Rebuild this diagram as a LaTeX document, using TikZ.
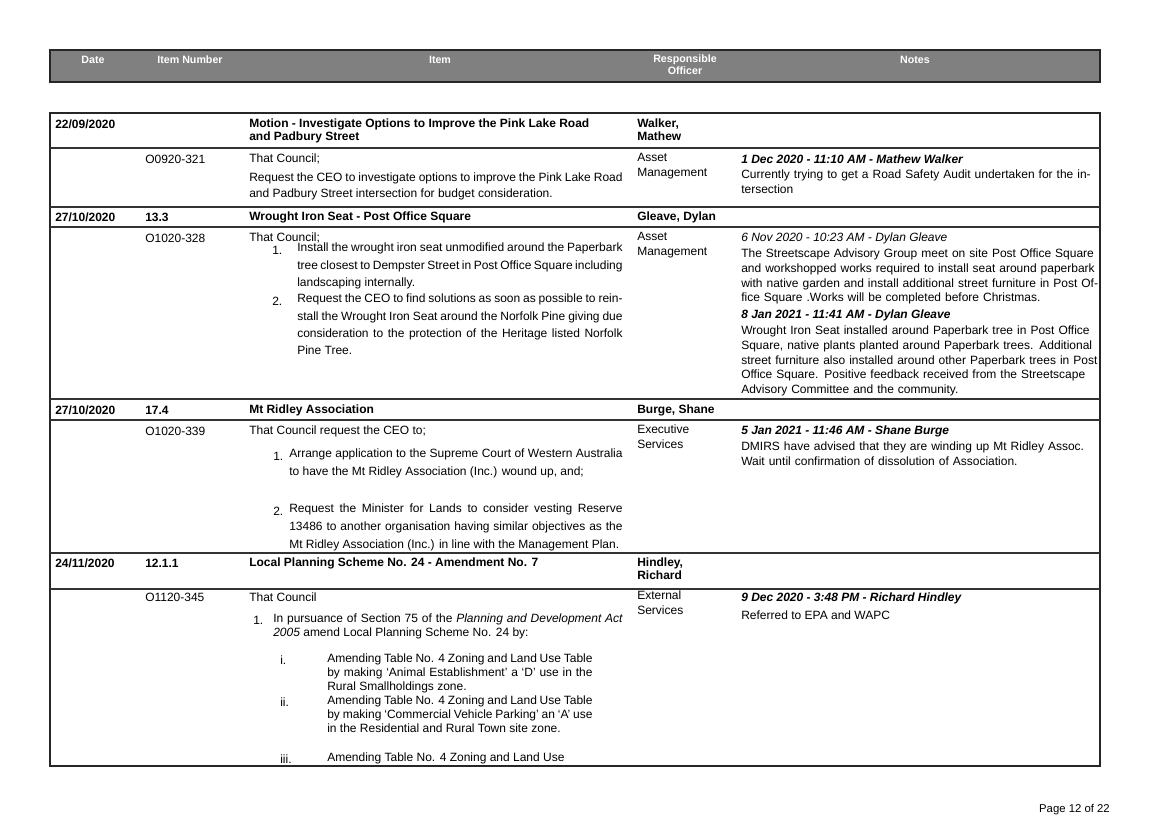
\documentclass[tikz,border=0pt]{standalone}
\usepackage{fontspec}
\setmainfont{Liberation Sans}
\begin{document}
\begin{tikzpicture}[x=0.75pt,y=-0.75pt,
  tx/.style={anchor=west,inner sep=0pt,font=\fontsize{9}{11}\selectfont},
  bd/.style={tx,font=\fontsize{9}{11}\selectfont\bfseries},
  hd/.style={inner sep=0pt,text=white,font=\fontsize{8}{9}\selectfont\bfseries,align=center},
  para/.style={anchor=north west,inner sep=0pt,align=justify,font=\fontsize{9}{#1}\selectfont},
  para/.default=12,
  rule/.style={line width=0.8pt,draw=black!80}]
\useasboundingbox (0,0) rectangle (1160,821);
% header
\draw[fill=black!50,line width=1.6pt,draw=black!85] (50,50) rectangle (1100,82);
\node[hd] (h1) at (93,60) {Date};
\node[hd] (h2) at (190,60) {Item Number};
\node[hd] (h3) at (440,60) {Item};
\node[hd,anchor=north] (h4) at (685,55) {Responsible\\Officer};
\node[hd] (h5) at (915,60) {Notes};
% table
\draw[line width=1.4pt,draw=black!85] (50,113) rectangle (1100,766);
\foreach \yy in {148,207,227,399,420,553,589} \draw[rule] (50,\yy) -- (1100,\yy);
% row 1
\node[bd] (d1) at (55,124) {22/09/2020};
\node[bd,anchor=north west] (t1) at (249,117) {\begin{tabular}{@{}l@{}}Motion - Investigate Options to Improve the Pink Lake Road\\[-1.5pt]and Padbury Street\end{tabular}};
\node[bd,anchor=north west] (o1) at (637,117) {\begin{tabular}{@{}l@{}}Walker,\\[-1.5pt]Mathew\end{tabular}};
\node[tx] (n1) at (145,159) {O0920-321};
\node[tx] (c1) at (249,159) {That Council;};
\node[para,text width=280pt] (p1) at (249,173) {Request the CEO to investigate options to improve the Pink Lake Road and Padbury Street intersection for budget consideration.};
\node[tx,anchor=north west,align=left] (r1) at (637,153) {Asset\\Management};
\node[bd,font=\fontsize{9}{11}\selectfont\bfseries\itshape] (m1) at (741,159) {1 Dec 2020 - 11:10 AM - Mathew Walker};
\node[para=11,text width=272pt,align=left] (q1) at (741,170) {Currently trying to get a Road Safety Audit undertaken for the intersection};
% row 2
\node[bd] (d2) at (55,217) {27/10/2020};
\node[bd] (i2) at (145,217) {13.3};
\node[bd] (t2) at (249,217) {Wrought Iron Seat - Post Office Square};
\node[bd] (o2) at (637,217) {Gleave, Dylan};
\node[tx] (n2) at (145,238) {O1020-328};
\node[tx] (c2) at (249,238) {That Council;};
\node[tx] (k21) at (272,250) {1.};
\node[para=12.8,text width=244pt] (p21) at (297,243) {Install the wrought iron seat unmodified around the Paperbark tree closest to Dempster Street in Post Office Square including landscaping internally.};
\node[tx] (k22) at (272,301) {2.};
\node[para=12.8,text width=244pt] (p22) at (297,294) {Request the CEO to find solutions as soon as possible to reinstall the Wrought Iron Seat around the Norfolk Pine giving due consideration to the protection of the Heritage listed Norfolk Pine Tree.};
\node[tx,anchor=north west,align=left] (r2) at (637,232) {Asset\\Management};
\node[tx,font=\fontsize{9}{11}\selectfont\itshape] (m21) at (741,238) {6 Nov 2020 - 10:23 AM - Dylan Gleave};
\node[para=11,text width=272pt,align=left] (q21) at (741,249) {The Streetscape Advisory Group meet on site Post Office Square and workshopped works required to install seat around paperbark with native garden and install additional street furniture in Post Office Square .Works will be completed before Christmas.};
\node[bd,font=\fontsize{9}{11}\selectfont\bfseries\itshape] (m22) at (741,315) {8 Jan 2021 - 11:41 AM - Dylan Gleave};
\node[para=11,text width=272pt,align=left] (q22) at (741,326) {Wrought Iron Seat installed around Paperbark tree in Post Office Square, native plants planted around Paperbark trees. Additional street furniture also installed around other Paperbark trees in Post Office Square. Positive feedback received from the Streetscape Advisory Committee and the community.};
% row 3
\node[bd] (d3) at (55,410) {27/10/2020};
\node[bd] (i3) at (145,410) {17.4};
\node[bd] (t3) at (249,410) {Mt Ridley Association};
\node[bd] (o3) at (637,410) {Burge, Shane};
\node[tx] (n3) at (145,431) {O1020-339};
\node[tx] (c3) at (249,431) {That Council request the CEO to;};
\node[tx] (k31) at (273,456) {1.};
\node[para=13.5,text width=250pt] (p31) at (289,449) {Arrange application to the Supreme Court of Western Australia to have the Mt Ridley Association (Inc.) wound up, and;};
\node[tx] (k32) at (273,511) {2.};
\node[para=13.5,text width=250pt] (p32) at (289,504) {Request the Minister for Lands to consider vesting Reserve 13486 to another organisation having similar objectives as the Mt Ridley Association (Inc.) in line with the Management Plan.};
\node[tx,anchor=north west,align=left] (r3) at (637,425) {Executive\\Services};
\node[bd,font=\fontsize{9}{11}\selectfont\bfseries\itshape] (m3) at (741,431) {5 Jan 2021 - 11:46 AM - Shane Burge};
\node[para=11,text width=272pt,align=left] (q3) at (741,442) {DMIRS have advised that they are winding up Mt Ridley Assoc. Wait until confirmation of dissolution of Association.};
% row 4
\node[bd] (d4) at (55,563) {24/11/2020};
\node[bd] (i4) at (145,563) {12.1.1};
\node[bd] (t4) at (249,563) {Local Planning Scheme No. 24 - Amendment No. 7};
\node[bd,anchor=north west] (o4) at (637,556) {\begin{tabular}{@{}l@{}}Hindley,\\[-1.5pt]Richard\end{tabular}};
\node[tx] (n4) at (145,597) {O1120-345};
\node[tx] (c4) at (249,597) {That Council};
\node[tx] (k41) at (253,620) {1.};
\node[para=10.5,text width=262pt] (p41) at (273,614) {In pursuance of Section 75 of the \textit{Planning and Development Act 2005} amend Local Planning Scheme No. 24 by:};
\node[tx] (k42) at (280,660) {i.};
\node[para=10.2,text width=199pt] (p42) at (327,654) {Amending Table No. 4 Zoning and Land Use Table by making `Animal Establishment' a `D' use in the Rural Smallholdings zone.};
\node[tx] (k43) at (280,702) {ii.};
\node[para=10.2,text width=199pt] (p43) at (327,696) {Amending Table No. 4 Zoning and Land Use Table by making `Commercial Vehicle Parking' an `A' use in the Residential and Rural Town site zone.};
\node[tx] (k44) at (280,759) {iii.};
\node[tx] (p44) at (327,758) {Amending Table No. 4 Zoning and Land Use};
\node[tx,anchor=north west,align=left] (r4) at (637,591) {External\\Services};
\node[bd,font=\fontsize{9}{11}\selectfont\bfseries\itshape] (m4) at (741,598) {9 Dec 2020 - 3:48 PM - Richard Hindley};
\node[tx] (q4) at (741,615) {Referred to EPA and WAPC};
% footer
\node[tx,font=\fontsize{8.5}{10}\selectfont,anchor=east] (pg) at (1110,810) {Page 12 of 22};
\end{tikzpicture}
\end{document}
